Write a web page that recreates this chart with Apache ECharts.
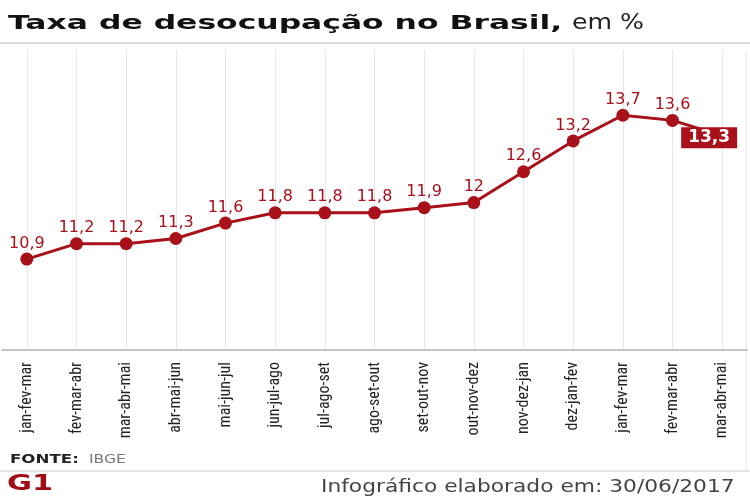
<!DOCTYPE html>
<html><head><meta charset="utf-8">
<script src="https://cdn.jsdelivr.net/npm/echarts@6/dist/echarts.min.js"></script>
<style>html,body{margin:0;padding:0;background:#fff}#c{width:750px;height:500px}</style>
</head><body><div id="c"></div>
<script>
const categories = ['jan-fev-mar','fev-mar-abr','mar-abr-mai','abr-mai-jun','mai-jun-jul','jun-jul-ago','jul-ago-set','ago-set-out','set-out-nov','out-nov-dez','nov-dez-jan','dez-jan-fev','jan-fev-mar','fev-mar-abr','mar-abr-mai'];
const values = [10.9, 11.2, 11.2, 11.3, 11.6, 11.8, 11.8, 11.8, 11.9, 12, 12.6, 13.2, 13.7, 13.6, 13.3];
const RED = '#a8101a';
const chart = echarts.init(document.getElementById('c'));
const fmt = v => String(v).replace('.', ',');
const data = values.map((v, i) => i === values.length - 1 ? {
  value: v,
  label: {position: 'inside', offset: [-13, 2], backgroundColor: RED, color: '#fff', fontWeight: 'bold', fontSize: 17, padding: [3, 7, 1, 7], fontFamily: 'DejaVu Sans'}
} : v);
chart.setOption({
  animation: false,
  grid: {left: 2, right: 3, top: 50, bottom: 150},
  xAxis: {
    type: 'category', data: categories, boundaryGap: true,
    axisLine: {lineStyle: {color: '#c4c4c4', width: 2}},
    axisTick: {show: false},
    splitLine: {show: true, alignWithLabel: true, lineStyle: {color: '#e6e6e6', width: 1}},
    axisLabel: {rotate: 90, interval: 0, fontFamily: 'Liberation Sans Narrow, Roboto Condensed, Liberation Sans', fontSize: 16, color: '#222', margin: 12}
  },
  yAxis: {type: 'value', min: 9.13, max: 14.97, show: false, splitLine: {show: false}},
  series: [{
    type: 'line', data: data,
    symbol: 'circle', symbolSize: 13,
    lineStyle: {color: RED, width: 3},
    itemStyle: {color: RED},
    label: {show: true, position: 'top', distance: 1, formatter: p => fmt(p.value), color: RED, fontSize: 16, fontFamily: 'DejaVu Sans'}
  }],
  graphic: [
    {type: 'text', x: 8, y: 14, scaleX: 1.57, style: {x: 0, y: 0, text: 'Taxa de desocupação no Brasil,', fontFamily: 'DejaVu Sans', fontWeight: 'bold', fontSize: 20, fill: '#111'}},
    {type: 'text', x: 572, y: 13, scaleX: 1.2, style: {x: 0, y: 0, text: 'em %', fontFamily: 'DejaVu Sans', fontSize: 21, fill: '#222'}},
    {type: 'line', shape: {x1: 0, y1: 43, x2: 750, y2: 43}, style: {stroke: '#dcdcdc', lineWidth: 2}},
    {type: 'line', shape: {x1: 746, y1: 50, x2: 746, y2: 470}, style: {stroke: '#e6e6e6', lineWidth: 1}},
    {type: 'text', x: 10, y: 453, scaleX: 1.28, style: {x: 0, y: 0, text: 'FONTE:', fontFamily: 'DejaVu Sans', fontWeight: 'bold', fontSize: 13, fill: '#222'}},
    {type: 'text', x: 89, y: 453, scaleX: 1.2, style: {x: 0, y: 0, text: 'IBGE', fontFamily: 'DejaVu Sans', fontSize: 13, fill: '#777'}},
    {type: 'line', shape: {x1: 0, y1: 471, x2: 750, y2: 471}, style: {stroke: '#dcdcdc', lineWidth: 1.5}},
    {type: 'text', x: 7, y: 474, scaleX: 1.45, style: {x: 0, y: 0, text: 'G1', fontFamily: 'DejaVu Sans', fontWeight: 'bold', fontSize: 21, fill: '#a00d14'}},
    {type: 'text', x: 321, y: 479, scaleX: 1.28, style: {x: 0, y: 0, text: 'Infográfico elaborado em: 30/06/2017', fontFamily: 'DejaVu Sans', fontSize: 17, fill: '#444'}}
  ]
});
</script></body></html>
